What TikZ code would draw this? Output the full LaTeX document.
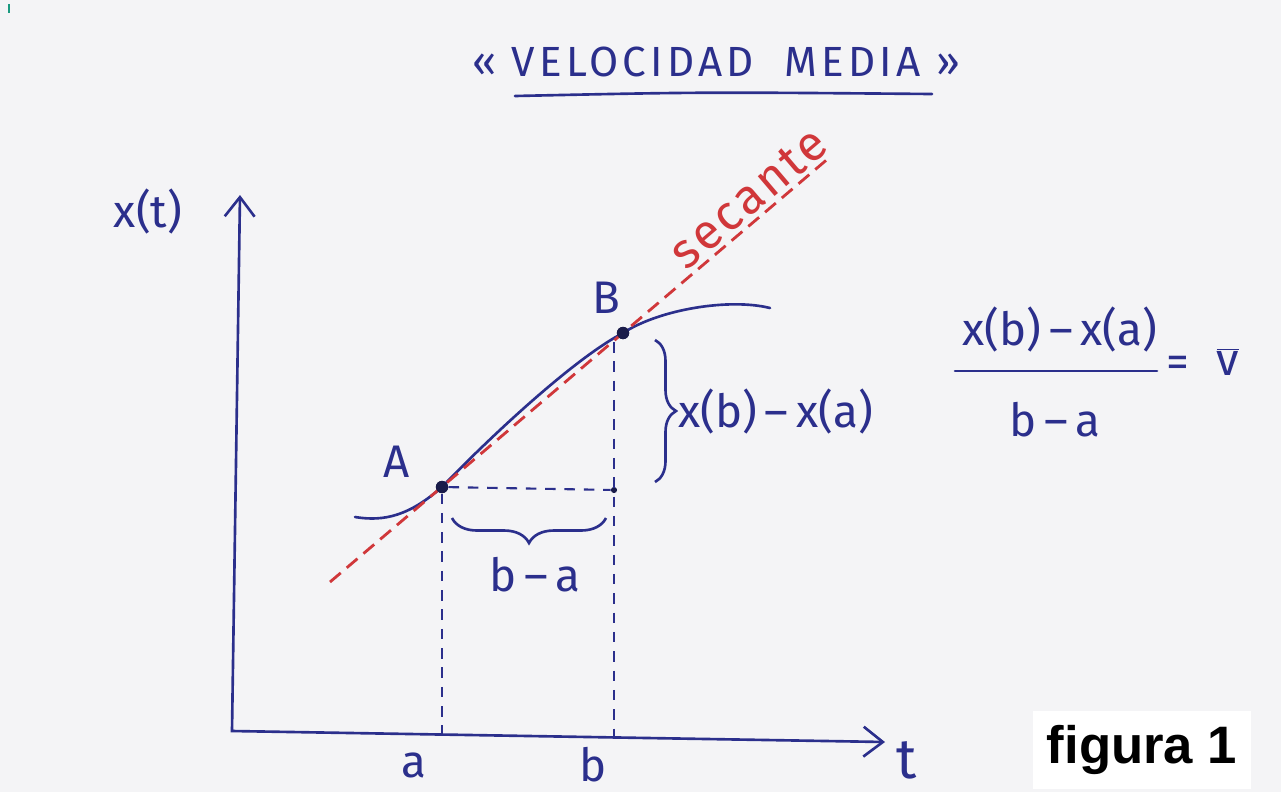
\documentclass[tikz,border=0pt]{standalone}
\usepackage{fontspec}
\setmainfont{Fira Sans}
\newfontfamily\figfont{Liberation Sans}
\usetikzlibrary{arrows.meta,decorations.pathreplacing}
\definecolor{ink}{HTML}{2B2F8C}
\definecolor{dotink}{HTML}{1A1C4A}
\definecolor{redink}{HTML}{D0373A}
\definecolor{paper}{HTML}{F4F4F6}
\definecolor{tealmark}{HTML}{1A9A80}
\begin{document}
\begin{tikzpicture}[x=0.02cm,y=-0.02cm,
  inkline/.style={draw=ink,line width=1.5pt,line cap=round},
  guide/.style={draw=ink,line width=1.2pt,dash pattern=on 6pt off 5pt},
  secline/.style={draw=redink,line width=1.6pt,dash pattern=on 8pt off 4.5pt},
  lbl/.style={text=ink,font=\fontsize{26}{30}\selectfont,inner sep=0pt},
  dot/.style={circle,fill=dotink,inner sep=0pt,minimum size=7pt},
  smalldot/.style={circle,fill=dotink,inner sep=0pt,minimum size=3.5pt},
  bracestyle/.style={draw=ink,line width=1.5pt,decorate},
  axes/.style={inkline,{Straight Barb[length=11pt,width=17pt,line width=1.5pt]}-{Straight Barb[length=11pt,width=17pt,line width=1.5pt]}},
]
\fill[paper] (0,0) rectangle (1281,792);
\useasboundingbox (0,0) rectangle (1281,792);
\draw[tealmark,line width=1.5pt] (9,4) -- (9,13);

% title
\node[lbl,font=\fontsize{24}{28}\selectfont\addfontfeature{LetterSpace=10}] (title) at (716,62) {«\ VELOCIDAD\ \ MEDIA\ »};
\coordinate (u1) at (515,96);
\coordinate (u2) at (932,94);
\draw[inkline] (u1) .. controls (700,92) .. (u2);

% axes
\coordinate (O) at (232,731);
\coordinate (Ytip) at (240,195);
\coordinate (Xtip) at (885,742);
\draw[axes] (Ytip) -- (O) -- (Xtip);
\node[lbl] (xt) at (148,212) {x(t)};
\node[lbl,font=\fontsize{32}{34}\selectfont] (tl) at (907,760) {t};

% points
\node[dot] (A) at (442,487) {};
\node[dot] (B) at (623,333) {};
\node[smalldot] (C) at (614,490) {};
\coordinate (a) at (442,736);
\coordinate (b) at (614,739);
\coordinate (Btop) at (614,342);

% guides
\draw[guide] (A) -- (a);
\draw[guide] (Btop) -- (b);
\draw[guide] (A) -- (C);

% curve
\coordinate (c0) at (355,517);
\coordinate (c3) at (770,308);
\draw[inkline] (c0) .. controls (385,522) and (410,515) .. (A.center)
  .. controls (492,435) and (575,358) .. (B.center)
  .. controls (660,309) and (730,298) .. (c3);

% secant
\coordinate (S1) at (330,582);
\coordinate (S2) at (830,157);
\draw[secline] (S1) -- (S2);
\node[dot] at (A) {};
\node[dot] at (B) {};
\node[text=redink,font=\fontsize{28}{30}\selectfont\addfontfeature{LetterSpace=6},rotate=40.4,anchor=base west,inner sep=0pt] (sec) at (686,272) {secante};

% braces
\coordinate (v1) at (655,340);
\coordinate (v2) at (655,482);
\draw[bracestyle,decoration={brace,amplitude=0.42cm}] (v1) -- (v2);
\coordinate (h1) at (606,518);
\coordinate (h2) at (452,518);
\draw[bracestyle,decoration={brace,amplitude=0.5cm}] (h1) -- (h2);

% labels
\node[lbl] (la) at (397,462) {A};
\node[lbl] (lb) at (606,298) {B};
\node[lbl,anchor=west] (dx) at (678,412) {x(b)\,–\,x(a)};
\node[lbl] (dt) at (535,575) {b\,–\,a};
\node[lbl] (ta) at (414,765) {a};
\node[lbl] (tb) at (593,765) {b};

% formula
\node[lbl] (num) at (1060,330) {x(b)\,–\,x(a)};
\node[lbl] (den) at (1055,420) {b\,–\,a};
\coordinate (f1) at (955,371);
\coordinate (f2) at (1157,371);
\draw[inkline] (f1) -- (f2);
\node[lbl] (eq) at (1178,367) {=};
\node[lbl] (vbar) at (1228,362) {$\overline{\hbox{v}}$};

% figura 1
\node[fill=white,text=black,font=\figfont\bfseries\fontsize{30}{34}\selectfont,inner sep=8pt] (fig) at (1142,750) {figura 1};
\end{tikzpicture}
\end{document}
